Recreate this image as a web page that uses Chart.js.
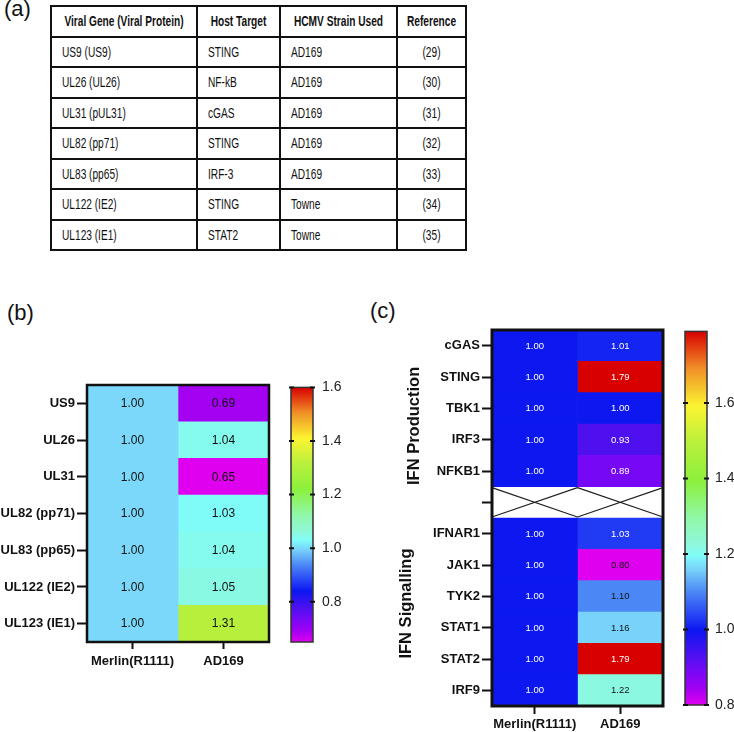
<!DOCTYPE html>
<html>
<head>
<meta charset="utf-8">
<script src="https://cdn.jsdelivr.net/npm/chart.js@4.4.1/dist/chart.umd.min.js"></script>
<style>
  body { margin: 0; background: #fff; width: 734px; height: 732px; position: relative; overflow: hidden; font-family: Arial, "Liberation Sans", sans-serif; color: #111; }
  .tag { position: absolute; font-size: 22px; line-height: 22px; }
  canvas { position: absolute; }
  #tbl { position: absolute; left: 50px; top: 5px; width: 415px; border-collapse: collapse; table-layout: fixed; font-size: 14.5px; }
  #tbl th, #tbl td { border: 2px solid #111; height: 28.5px; padding: 0; white-space: nowrap; text-align: left; overflow: hidden; }
  #tbl div { width: 142.857%; transform: scaleX(0.7); transform-origin: left center; box-sizing: border-box; padding-left: 14.3px; }
  #tbl th div { text-align: center; font-weight: bold; padding-left: 0; }
  #tbl td.mid div { text-align: center; padding-left: 0; }
</style>
</head>
<body>
<div class="tag" style="left:4px;top:-2px">(a)</div>
<div class="tag" style="left:7px;top:302px">(b)</div>
<div class="tag" style="left:370px;top:300px">(c)</div>
<table id="tbl">
  <colgroup><col style="width:146px"><col style="width:83px"><col style="width:117px"><col style="width:69px"></colgroup>
  <thead><tr id="head"></tr></thead>
  <tbody id="body"></tbody>
</table>
<canvas id="heatB" width="285" height="310" style="left:0;top:370px"></canvas>
<canvas id="barB" width="62" height="290" style="left:280px;top:370px"></canvas>
<canvas id="heatC" width="300" height="417" style="left:370px;top:315px"></canvas>
<canvas id="barC" width="59" height="417" style="left:675px;top:315px"></canvas>
<script>
// (a) table
const TABLE_HEAD = ['Viral Gene (Viral Protein)', 'Host Target', 'HCMV Strain Used', 'Reference'];
const VIRAL_GENES = ['US9 (US9)', 'UL26 (UL26)', 'UL31 (pUL31)', 'UL82 (pp71)', 'UL83 (pp65)', 'UL122 (IE2)', 'UL123 (IE1)'];
const HOST_TARGETS = ['STING', 'NF-kB', 'cGAS', 'STING', 'IRF-3', 'STING', 'STAT2'];
const STRAINS_USED = ['AD169', 'AD169', 'AD169', 'AD169', 'AD169', 'Towne', 'Towne'];
const REFERENCES = ['(29)', '(30)', '(31)', '(32)', '(33)', '(34)', '(35)'];

// heatmap columns
const STRAINS = ['Merlin(R1111)', 'AD169'];

// (b)
const B_GENES = ['US9', 'UL26', 'UL31', 'UL82 (pp71)', 'UL83 (pp65)', 'UL122 (IE2)', 'UL123 (IE1)'];
const B_MERLIN = [1.00, 1.00, 1.00, 1.00, 1.00, 1.00, 1.00];
const B_AD169 = [0.69, 1.04, 0.65, 1.03, 1.04, 1.05, 1.31];
const B_RANGE = [0.65, 1.6];
const B_TICKS = [0.8, 1.0, 1.2, 1.4, 1.6];

// (c) - empty row is the crossed-out gap
const C_GENES = ['cGAS', 'STING', 'TBK1', 'IRF3', 'NFKB1', '', 'IFNAR1', 'JAK1', 'TYK2', 'STAT1', 'STAT2', 'IRF9'];
const C_MERLIN = [1.00, 1.00, 1.00, 1.00, 1.00, null, 1.00, 1.00, 1.00, 1.00, 1.00, 1.00];
const C_AD169 = [1.01, 1.79, 1.00, 0.93, 0.89, null, 1.03, 0.80, 1.10, 1.16, 1.79, 1.22];
const C_RANGE = [0.8, 1.79];
const C_TICKS = [0.8, 1.0, 1.2, 1.4, 1.6];
const C_GROUPS = ['IFN Production', 'IFN Signalling'];

// rainbow colour map (fraction -> colour)
const RAINBOW = [
  [0, '#e000f0'], [0.045, '#a000f2'], [0.09, '#7808f5'], [0.13, '#5010f0'], [0.2, '#0c16f0'],
  [0.23, '#2038f5'], [0.3, '#4a84f5'], [0.365, '#7ad4fa'], [0.4, '#80fcf8'], [0.43, '#8ef8dc'],
  [0.5, '#90f8a8'], [0.6, '#8cf03c'], [0.7, '#b8f03c'], [0.8, '#fcf432'], [0.9, '#f09028'], [1, '#d80000']
];

function hexRgb(h) { return [1, 3, 5].map(i => parseInt(h.substr(i, 2), 16)); }

function rainbow(v, range) {
  let t = (v - range[0]) / (range[1] - range[0]);
  t = Math.max(0, Math.min(1, t));
  for (let i = 1; i < RAINBOW.length; i++) {
    if (t <= RAINBOW[i][0]) {
      const [t0, c0] = RAINBOW[i - 1], [t1, c1] = RAINBOW[i];
      const f = (t - t0) / (t1 - t0), a = hexRgb(c0), b = hexRgb(c1);
      return 'rgb(' + a.map((x, k) => Math.round(x + (b[k] - x) * f)).join(',') + ')';
    }
  }
  return RAINBOW[RAINBOW.length - 1][1];
}

function brightness(rgb) {
  const m = rgb.match(/\d+/g).map(Number);
  return (0.299 * m[0] + 0.587 * m[1] + 0.114 * m[2]) / 255;
}

// build table (text squeezed horizontally like the original)
document.getElementById('head').innerHTML = TABLE_HEAD.map(h => '<th><div>' + h + '</div></th>').join('');
document.getElementById('body').innerHTML = VIRAL_GENES.map((g, i) =>
  '<tr><td><div>' + g + '</div></td><td><div>' + HOST_TARGETS[i] + '</div></td><td><div>' +
  STRAINS_USED[i] + '</div></td><td class="mid"><div>' + REFERENCES[i] + '</div></td></tr>').join('');

const FONT = 'Arial, "Liberation Sans", sans-serif';

const cellText = {
  id: 'cellText',
  afterDatasetsDraw(chart, args, o) {
    const ctx = chart.ctx;
    ctx.save();
    ctx.font = o.size + 'px ' + FONT;
    ctx.textAlign = 'center';
    ctx.textBaseline = 'middle';
    chart.data.datasets.forEach((ds, di) => {
      chart.getDatasetMeta(di).data.forEach((el, i) => {
        const v = ds.values[i];
        if (v == null) return;
        const p = el.getCenterPoint();
        ctx.fillStyle = o.auto && brightness(ds.backgroundColor[i]) < 0.3 ? '#fff' : '#111';
        ctx.fillText(v.toFixed(2), p.x, p.y + 0.5);
      });
    });
    ctx.restore();
  },
  afterDraw(chart, args, o) {
    const ctx = chart.ctx, a = chart.chartArea, x = chart.scales.x, y = chart.scales.y;
    ctx.save();
    // crossed-out empty rows
    const rh = (a.bottom - a.top) / chart.data.labels.length;
    chart.data.labels.forEach((lab, i) => {
      if (lab !== '') return;
      const yc = y.getPixelForValue(i), t = yc - rh / 2, b = yc + rh / 2;
      ctx.fillStyle = '#fff';
      ctx.fillRect(a.left, t + 1, a.right - a.left, rh - 2);
      ctx.strokeStyle = '#222';
      ctx.lineWidth = 1.2;
      ctx.beginPath();
      STRAINS.forEach((s, k) => {
        const l = x.getPixelForValue(k), r = x.getPixelForValue(k + 1);
        ctx.moveTo(l, t + 1); ctx.lineTo(r, b - 1);
        ctx.moveTo(l, b - 1); ctx.lineTo(r, t + 1);
      });
      ctx.stroke();
    });
    // frame
    ctx.strokeStyle = '#111';
    ctx.lineWidth = o.frame;
    ctx.strokeRect(a.left, a.top, a.right - a.left, a.bottom - a.top);
    // group labels
    if (o.groups) {
      ctx.font = 'bold 16.5px ' + FONT;
      ctx.fillStyle = '#111';
      ctx.textAlign = 'center';
      ctx.textBaseline = 'alphabetic';
      o.groups.forEach(g => {
        ctx.save();
        ctx.translate(g.x, y.getPixelForValue(g.row));
        ctx.rotate(-Math.PI / 2);
        ctx.fillText(g.text, 0, 0);
        ctx.restore();
      });
    }
    ctx.restore();
  }
};

function makeHeatmap(id, rows, series, range, opt) {
  return new Chart(document.getElementById(id), {
    type: 'bar',
    data: {
      labels: rows,
      datasets: series.map((vals, col) => ({
        data: vals.map(v => v == null ? null : [col, col + 1]),
        values: vals,
        backgroundColor: vals.map(v => v == null ? 'rgba(0,0,0,0)' : rainbow(v, range)),
        barPercentage: 1, categoryPercentage: 1, grouped: false, borderWidth: 0
      }))
    },
    options: {
      indexAxis: 'y',
      responsive: false,
      animation: false,
      devicePixelRatio: 1,
      layout: { padding: opt.padding },
      scales: {
        x: {
          type: 'linear', min: 0, max: STRAINS.length,
          afterBuildTicks: s => { s.ticks = STRAINS.map((_, i) => ({ value: i + 0.5 })); },
          afterFit: s => { s.height = opt.xHeight; },
          grid: { display: true, drawOnChartArea: false, tickLength: opt.xTick, tickWidth: 2, tickColor: '#111' },
          border: { display: false },
          ticks: { autoSkip: false, maxRotation: 0, padding: opt.xPad, color: '#111', font: { family: FONT, size: 13, weight: 'bold' }, callback: (v, i) => STRAINS[i] }
        },
        y: {
          afterFit: s => { s.width = opt.yWidth; },
          grid: { display: true, offset: false, drawOnChartArea: false, tickLength: 10, tickWidth: 2, tickColor: '#111' },
          border: { display: false },
          ticks: { autoSkip: false, padding: 2, color: '#111', font: { family: FONT, size: 13, weight: 'bold' } }
        }
      },
      plugins: {
        legend: { display: false },
        tooltip: { enabled: false },
        cellText: { size: opt.textSize, auto: opt.autoText, frame: opt.frame, groups: opt.groups }
      }
    },
    plugins: [cellText]
  });
}

const barMarks = {
  id: 'barMarks',
  afterDraw(chart) {
    const ctx = chart.ctx, a = chart.chartArea, y = chart.scales.y;
    ctx.save();
    ctx.strokeStyle = '#333';
    ctx.lineWidth = 1.5;
    ctx.strokeRect(a.left, a.top, a.right - a.left, a.bottom - a.top);
    ctx.strokeStyle = '#111';
    ctx.lineWidth = 2;
    ctx.beginPath();
    y.ticks.forEach(t => {
      const py = y.getPixelForValue(t.value);
      ctx.moveTo(a.left - 2, py); ctx.lineTo(a.left + 3, py);
      ctx.moveTo(a.right - 3, py); ctx.lineTo(a.right + 2, py);
    });
    ctx.stroke();
    ctx.restore();
  }
};

function makeColorbar(id, range, ticks, opt) {
  return new Chart(document.getElementById(id), {
    type: 'bar',
    data: {
      labels: [''],
      datasets: [{
        data: [range],
        barPercentage: 1, categoryPercentage: 1, borderWidth: 0,
        backgroundColor: c => {
          const a = c.chart.chartArea;
          if (!a) return null;
          const g = c.chart.ctx.createLinearGradient(0, a.bottom, 0, a.top);
          RAINBOW.forEach(([t, col]) => g.addColorStop(t, col));
          return g;
        }
      }]
    },
    options: {
      responsive: false,
      animation: false,
      devicePixelRatio: 1,
      layout: { padding: opt.padding },
      scales: {
        x: { display: false },
        y: {
          position: 'right', min: range[0], max: range[1],
          afterBuildTicks: s => { s.ticks = ticks.map(v => ({ value: v })); },
          afterFit: s => { s.width = opt.yWidth; },
          grid: { display: false, drawTicks: false },
          border: { display: false },
          ticks: { padding: opt.tickPad, color: '#222', font: { family: FONT, size: 14 }, callback: v => v.toFixed(1) }
        }
      },
      plugins: { legend: { display: false }, tooltip: { enabled: false } }
    },
    plugins: [barMarks]
  });
}

makeHeatmap('heatB', B_GENES, [B_MERLIN, B_AD169], B_RANGE, {
  padding: { top: 15, right: 16, left: 0, bottom: 0 }, yWidth: 87, xHeight: 38, xTick: 7, xPad: 5,
  textSize: 12, autoText: false, frame: 2.5
});
makeColorbar('barB', B_RANGE, B_TICKS, { padding: { top: 16, bottom: 18, left: 11, right: 0 }, yWidth: 29, tickPad: 9 });

makeHeatmap('heatC', C_GENES, [C_MERLIN, C_AD169], C_RANGE, {
  padding: { top: 15, right: 7, left: 0, bottom: 0 }, yWidth: 122, xHeight: 26, xTick: 8, xPad: 3,
  textSize: 9.5, autoText: true, frame: 3,
  groups: [{ text: C_GROUPS[0], x: 49, row: 2.56 }, { text: C_GROUPS[1], x: 41, row: 8.23 }]
});
makeColorbar('barC', C_RANGE, C_TICKS, { padding: { top: 15, bottom: 27, left: 10, right: 0 }, yWidth: 27, tickPad: 8 });
</script>
</body>
</html>
